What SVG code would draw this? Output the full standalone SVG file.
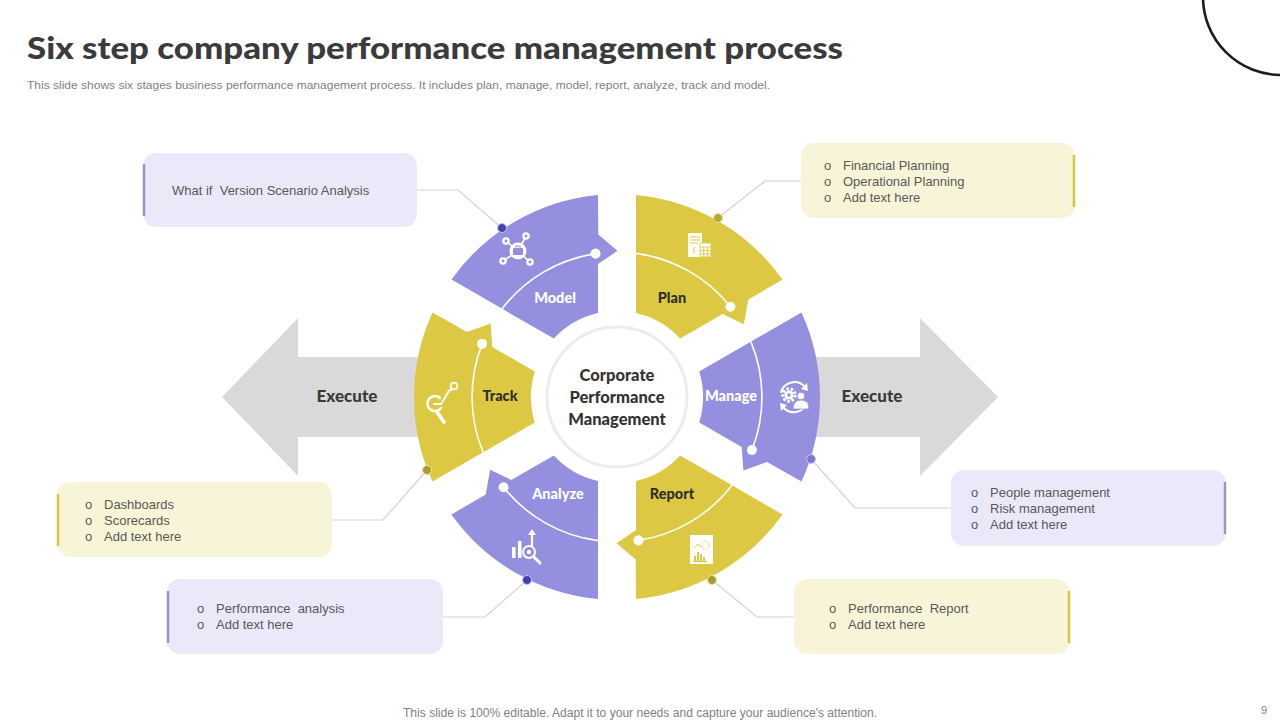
<svg xmlns="http://www.w3.org/2000/svg" xmlns:xlink="http://www.w3.org/1999/xlink" width="1280" height="720" viewBox="0 0 1280 720">
<style>
.title{font-family:Lato,"Liberation Sans",sans-serif;font-weight:900;fill:#3b3b3b}
.sub{font-family:"Liberation Sans",Arial,sans-serif;fill:#7f7f7f}
.lbl{font-family:Lato,"Liberation Sans",sans-serif;font-weight:900;font-size:14.5px;text-anchor:middle}
.lw{fill:#ffffff}
.ld{fill:#2f2f2f}
.ctr{font-family:Lato,"Liberation Sans",sans-serif;font-weight:900;font-size:16.5px;fill:#333333;text-anchor:middle}
.exe{font-family:Lato,"Liberation Sans",sans-serif;font-weight:900;font-size:17px;fill:#3a3a3a;text-anchor:middle}
.bt{font-family:"Liberation Sans",Arial,sans-serif;font-size:13px;fill:#595959}
.purple{fill:#958FE0}
.yellow{fill:#DDC843}
.boxp{fill:#EAE8F9}
.boxy{fill:#F8F4D8}
.acp{stroke:#9a96c4;stroke-width:2.5}
.acy{stroke:#D9C53E;stroke-width:2.5}
.conn{fill:none;stroke:#d2d2d2;stroke-width:1.2}
.arc{fill:none;stroke:#ffffff;stroke-width:1.6}
.wi{fill:none;stroke:#ffffff;stroke-linecap:round;stroke-linejoin:round}
</style>
<defs>
<path id="segShape" d="M82.2,-25.5 L184.5,-84.6 A203,203 0 0 1 184.5,84.6 L150,65 L126.4,73.5 L124.7,50.05 L82.2,25.5 A86,86 0 0 0 82.2,-25.5 Z"/>
<path id="segArc" d="M133.9,-55.4 A145,145 0 0 1 134.9,53.1"/>
</defs>
<rect x="0" y="0" width="1280" height="720" fill="#ffffff"/>

<circle cx="1281" cy="-3" r="78" fill="none" stroke="#1c1c1c" stroke-width="2.6"/>

<text class="title" x="27" y="59" font-size="31" textLength="816" lengthAdjust="spacingAndGlyphs">Six step company performance management process</text>
<text class="sub" x="27" y="89" font-size="11" textLength="743" lengthAdjust="spacingAndGlyphs">This slide shows six stages business performance management process. It includes plan, manage, model, report, analyze, track and model.</text>

<g id="execute-left">
<path d="M222,397 L298,318 L298,357 L440,357 L440,437 L298,437 L298,476 Z" fill="#D9D9D9"/>
<text class="exe" x="347" y="402">Execute</text>
</g>
<g id="execute-right">
<path d="M998,397 L920,318 L920,357 L790,357 L790,437 L920,437 L920,476 Z" fill="#D9D9D9"/>
<text class="exe" x="872" y="402">Execute</text>
</g>

<g id="center">
<circle cx="617" cy="397" r="70" fill="#ffffff" stroke="#ececec" stroke-width="3"/>
<text class="ctr" x="617" y="381">Corporate</text>
<text class="ctr" x="617" y="403">Performance</text>
<text class="ctr" x="617" y="425">Management</text>
</g>

<g id="seg-model">
<use xlink:href="#segShape" href="#segShape" class="purple" transform="translate(617 397) rotate(240)"/>
<g transform="translate(617 397) rotate(240)"><use xlink:href="#segArc" href="#segArc" class="arc"/><circle cx="134.9" cy="53.1" r="5" fill="#ffffff"/></g>
<text class="lbl lw" x="555" y="303">Model</text>
<g id="icon-model">
<g stroke="#ffffff" stroke-width="1.6"><line x1="518" y1="251" x2="506" y2="241"/><line x1="518" y1="251" x2="526" y2="236"/><line x1="518" y1="251" x2="503" y2="261"/><line x1="518" y1="251" x2="530" y2="262"/></g>
<circle cx="518" cy="251" r="8.5" fill="#ffffff"/>
<rect x="513" y="248" width="10" height="7" rx="1" fill="#958FE0"/>
<rect x="516" y="246" width="4" height="2.5" fill="none" stroke="#958FE0" stroke-width="1"/>
<circle cx="506" cy="241" r="3.8" fill="#ffffff"/><circle cx="526" cy="236" r="3.8" fill="#ffffff"/><circle cx="503" cy="261" r="3.8" fill="#ffffff"/><circle cx="530" cy="262" r="3.8" fill="#ffffff"/>
<circle cx="506" cy="241" r="1.4" fill="#958FE0"/><circle cx="526" cy="236" r="1.4" fill="#958FE0"/><circle cx="503" cy="261" r="1.4" fill="#958FE0"/><circle cx="530" cy="262" r="1.4" fill="#958FE0"/>
</g>
</g>

<g id="seg-plan">
<use xlink:href="#segShape" href="#segShape" class="yellow" transform="translate(617 397) rotate(300)"/>
<g transform="translate(617 397) rotate(300)"><use xlink:href="#segArc" href="#segArc" class="arc"/><circle cx="134.9" cy="53.1" r="5" fill="#ffffff"/></g>
<text class="lbl ld" x="672" y="303">Plan</text>
<g id="icon-plan">
<rect x="688" y="233" width="14" height="24" fill="#ffffff"/>
<g stroke="#DDC843" stroke-width="1"><line x1="690" y1="237" x2="700" y2="237"/><line x1="690" y1="240" x2="700" y2="240"/><line x1="690" y1="243" x2="698" y2="243"/><line x1="694" y1="247" x2="694" y2="254"/></g>
<rect x="700" y="243" width="11" height="14" fill="#ffffff" stroke="#DDC843" stroke-width="0.8"/>
<g stroke="#DDC843" stroke-width="0.9"><line x1="700" y1="247" x2="711" y2="247"/><line x1="700" y1="250.5" x2="711" y2="250.5"/><line x1="700" y1="254" x2="711" y2="254"/><line x1="703.7" y1="247" x2="703.7" y2="257"/><line x1="707.3" y1="247" x2="707.3" y2="257"/></g>
</g>
</g>

<g id="seg-manage">
<use xlink:href="#segShape" href="#segShape" class="purple" transform="translate(617 397)"/>
<g transform="translate(617 397)"><use xlink:href="#segArc" href="#segArc" class="arc"/><circle cx="134.9" cy="53.1" r="5" fill="#ffffff"/></g>
<text class="lbl lw" x="731" y="401">Manage</text>
<g id="icon-manage">
<path class="wi" stroke-width="2" d="M781,392 A14,14 0 0 1 805,387"/>
<path d="M807,383 L808,391 L801,389 Z" fill="#ffffff"/>
<path class="wi" stroke-width="2" d="M807,403 A14,14 0 0 1 783,407"/>
<path d="M781,411 L780,403 L787,405 Z" fill="#ffffff"/>
<circle cx="789" cy="395" r="6.2" fill="none" stroke="#ffffff" stroke-width="3" stroke-dasharray="2.6 1.7"/>
<circle cx="789" cy="395" r="4.6" fill="#ffffff"/>
<circle cx="789" cy="395" r="1.8" fill="#958FE0"/>
<circle cx="801" cy="396" r="3.8" fill="#ffffff" stroke="#958FE0" stroke-width="0.8"/>
<path d="M793,409 Q793,400 801,400 Q809,400 809,409 Z" fill="#ffffff" stroke="#958FE0" stroke-width="0.8"/>
</g>
</g>

<g id="seg-report">
<use xlink:href="#segShape" href="#segShape" class="yellow" transform="translate(617 397) rotate(60)"/>
<g transform="translate(617 397) rotate(60)"><use xlink:href="#segArc" href="#segArc" class="arc"/><circle cx="134.9" cy="53.1" r="5" fill="#ffffff"/></g>
<text class="lbl ld" x="672" y="499">Report</text>
<g id="icon-report">
<rect x="690" y="535" width="23" height="29" fill="#ffffff"/>
<circle cx="705" cy="545" r="4" fill="none" stroke="#DDC843" stroke-width="0.9" stroke-dasharray="1.5 1"/>
<path d="M694,548 L698,544 L701,547" fill="none" stroke="#DDC843" stroke-width="0.8"/>
<g fill="#DDC843"><rect x="694" y="556" width="2" height="5"/><rect x="697" y="552" width="2" height="9"/><rect x="700" y="554" width="2" height="7"/><rect x="703" y="557" width="2" height="4"/><rect x="693" y="561" width="14" height="1"/></g>
</g>
</g>

<g id="seg-analyze">
<use xlink:href="#segShape" href="#segShape" class="purple" transform="translate(617 397) rotate(120)"/>
<g transform="translate(617 397) rotate(120)"><use xlink:href="#segArc" href="#segArc" class="arc"/><circle cx="134.9" cy="53.1" r="5" fill="#ffffff"/></g>
<text class="lbl lw" x="558" y="499">Analyze</text>
<g id="icon-analyze">
<rect x="512" y="547" width="3.5" height="11" fill="#ffffff"/>
<rect x="518" y="541" width="3.5" height="17" fill="#ffffff"/>
<line x1="532" y1="548" x2="532" y2="533" stroke="#ffffff" stroke-width="2.2"/>
<path d="M528,535 L532,529 L536,535 Z" fill="#ffffff"/>
<circle cx="529" cy="552" r="6" fill="#958FE0" stroke="#ffffff" stroke-width="2"/>
<circle cx="529" cy="552" r="2.2" fill="#ffffff"/>
<line x1="533.5" y1="556.5" x2="540" y2="563" class="wi" stroke-width="3"/>
</g>
</g>

<g id="seg-track">
<use xlink:href="#segShape" href="#segShape" class="yellow" transform="translate(617 397) rotate(180)"/>
<g transform="translate(617 397) rotate(180)"><use xlink:href="#segArc" href="#segArc" class="arc"/><circle cx="134.9" cy="53.1" r="5" fill="#ffffff"/></g>
<text class="lbl ld" x="500" y="401">Track</text>
<g id="icon-track">
<path class="wi" stroke-width="2.6" d="M440,398 A7.5,7.5 0 1 0 441,408"/>
<path class="wi" stroke-width="2" d="M434,404 L441,404 Q445,398 447,394 Q449,390 452,389"/>
<circle cx="454" cy="386" r="3.4" fill="none" stroke="#ffffff" stroke-width="1.8"/>
<line x1="437" y1="412" x2="444" y2="422" class="wi" stroke-width="3.8"/>
</g>
</g>

<g id="connectors">
<polyline class="conn" points="417,190 458,190 502,228"/>
<polyline class="conn" points="801,181 765,181 718,218"/>
<polyline class="conn" points="951,508 855,508 811,459"/>
<polyline class="conn" points="332,520 383,520 427,470"/>
<polyline class="conn" points="443,617 485,617 527,580"/>
<polyline class="conn" points="794,617 757,617 712,580"/>
<circle cx="502" cy="228" r="4.5" fill="#4843B4" stroke="#c9c6f0" stroke-width="1"/>
<circle cx="718" cy="218" r="4.5" fill="#B9A935" stroke="#efe6a8" stroke-width="1"/>
<circle cx="811" cy="459" r="4.5" fill="#7D78D2" stroke="#c9c6f0" stroke-width="1"/>
<circle cx="427" cy="470" r="4.5" fill="#A99B2D" stroke="#efe6a8" stroke-width="1"/>
<circle cx="527" cy="580" r="4.5" fill="#4340B0" stroke="#c9c6f0" stroke-width="1"/>
<circle cx="712" cy="580" r="4.5" fill="#A99B2D" stroke="#efe6a8" stroke-width="1"/>
</g>

<g id="box-model">
<rect class="boxp" x="143" y="153" width="274" height="74" rx="13"/>
<line class="acp" x1="144" y1="164" x2="144" y2="216"/>
<text class="bt" x="172" y="195" xml:space="preserve">What if  Version Scenario Analysis</text>
</g>

<g id="box-plan">
<rect class="boxy" x="801" y="143" width="274" height="75" rx="13"/>
<line class="acy" x1="1074" y1="155" x2="1074" y2="207"/>
<text class="bt" x="824" y="170">o</text><text class="bt" x="843" y="170">Financial Planning</text>
<text class="bt" x="824" y="186">o</text><text class="bt" x="843" y="186">Operational  Planning</text>
<text class="bt" x="824" y="202">o</text><text class="bt" x="843" y="202">Add text here</text>
</g>

<g id="box-manage">
<rect class="boxp" x="951" y="470" width="275" height="76" rx="13"/>
<line class="acp" x1="1225" y1="482" x2="1225" y2="534"/>
<text class="bt" x="971" y="497">o</text><text class="bt" x="990" y="497">People management</text>
<text class="bt" x="971" y="513">o</text><text class="bt" x="990" y="513">Risk management</text>
<text class="bt" x="971" y="529">o</text><text class="bt" x="990" y="529">Add text here</text>
</g>

<g id="box-track">
<rect class="boxy" x="57" y="482" width="275" height="75" rx="13"/>
<line class="acy" x1="58" y1="494" x2="58" y2="546"/>
<text class="bt" x="85" y="509">o</text><text class="bt" x="104" y="509">Dashboards</text>
<text class="bt" x="85" y="525">o</text><text class="bt" x="104" y="525">Scorecards</text>
<text class="bt" x="85" y="541">o</text><text class="bt" x="104" y="541">Add text here</text>
</g>

<g id="box-analyze">
<rect class="boxp" x="167" y="579" width="276" height="75" rx="13"/>
<line class="acp" x1="168" y1="591" x2="168" y2="643"/>
<text class="bt" x="197" y="613">o</text><text class="bt" x="216" y="613" xml:space="preserve">Performance  analysis</text>
<text class="bt" x="197" y="629">o</text><text class="bt" x="216" y="629">Add text here</text>
</g>

<g id="box-report">
<rect class="boxy" x="794" y="579" width="276" height="75" rx="13"/>
<line class="acy" x1="1069" y1="591" x2="1069" y2="643"/>
<text class="bt" x="829" y="613">o</text><text class="bt" x="848" y="613" xml:space="preserve">Performance  Report</text>
<text class="bt" x="829" y="629">o</text><text class="bt" x="848" y="629">Add text here</text>
</g>

<text class="sub" x="403" y="717" font-size="12" textLength="474" lengthAdjust="spacingAndGlyphs">This slide is 100% editable. Adapt it to your needs and capture your audience's attention.</text>
<text class="sub" x="1261" y="714" font-size="11">9</text>
</svg>
